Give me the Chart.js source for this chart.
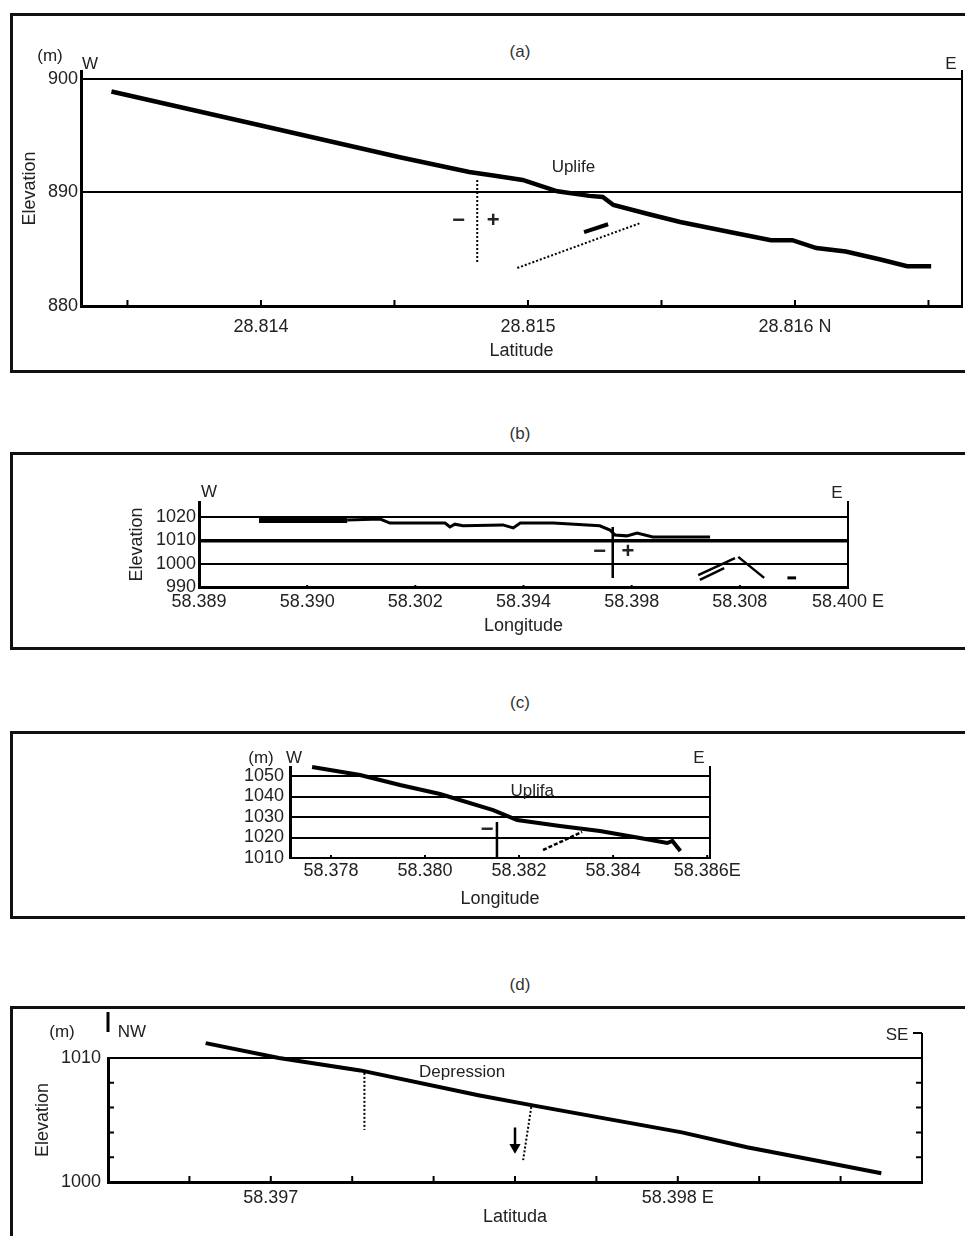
<!DOCTYPE html>
<html>
<head>
<meta charset="utf-8">
<title>Elevation profiles (a)-(d)</title>
<script src="https://cdn.jsdelivr.net/npm/chart.js"></script>
<style>
  body { margin: 0; width: 965px; height: 1236px; overflow: hidden; position: relative; background: #fff;
         font-family: "Liberation Sans", Arial, sans-serif; }
  .box { position: absolute; left: 10px; width: 990px; border: 3px solid #111; box-sizing: border-box; }
  .cap { position: absolute; width: 60px; margin-left: -30px; text-align: center; font-size: 17px; line-height: 20px; color: #333; }
  canvas { position: absolute; left: 0; }
</style>
</head>
<body>
<div class="box" style="top:13px; height:360px"></div>
<div class="box" style="top:452px; height:198px"></div>
<div class="box" style="top:731px; height:188px"></div>
<div class="box" style="top:1006px; height:260px"></div>
<div class="cap" style="left:520px; top:42px">(a)</div>
<div class="cap" style="left:520px; top:424px">(b)</div>
<div class="cap" style="left:520px; top:693px">(c)</div>
<div class="cap" style="left:520px; top:975px">(d)</div>
<canvas id="chartA" width="965" height="330" style="top:40px"></canvas>
<canvas id="chartB" width="965" height="175" style="top:470px"></canvas>
<canvas id="chartC" width="965" height="170" style="top:745px"></canvas>
<canvas id="chartD" width="965" height="226" style="top:1010px"></canvas>

<script>
    // (a) profile along latitude
    const latA = [28.81344, 28.81400, 28.81452, 28.81478, 28.81487, 28.81498, 28.81511, 28.81523, 28.81528, 28.81532,
                  28.81545, 28.81557, 28.81576, 28.81591, 28.81599, 28.81608, 28.81619, 28.81632, 28.81642, 28.81651];
    const elevA = [898.9, 895.9, 893.1, 891.8, 891.5, 891.1, 890.1, 889.7, 889.6, 888.9,
                   888.1, 887.4, 886.5, 885.8, 885.8, 885.1, 884.8, 884.1, 883.5, 883.5];
    const xTicksA = [28.8135, 28.814, 28.8145, 28.815, 28.8155, 28.816, 28.8165];
    const xLabelsA = ['', '28.814', '', '28.815', '', '28.816 N', ''];
    const yTicksA = [880, 890, 900];
    const yLabelsA = ['880', '890', '900'];
    const faultVertA = [[28.81481, 891.1], [28.81481, 883.8]];
    const faultSlopeA = [[28.81496, 883.35], [28.81542, 887.3]];
    const arrowA = [[28.81521, 886.5], [28.8153, 887.2]];

    // (b) profile along longitude
    const lonB = [58.38911, 58.39074, 58.39135, 58.39153, 58.39255, 58.39264, 58.39273, 58.39288, 58.39362, 58.39381,
                  58.39394, 58.39455, 58.39541, 58.39560, 58.39569, 58.39591, 58.39610, 58.39639, 58.39745];
    const elevB = [1018.7, 1018.7, 1019.1, 1017.4, 1017.4, 1015.7, 1016.9, 1016.2, 1016.6, 1015.3,
                   1017.4, 1017.4, 1016.2, 1014.4, 1012.3, 1011.9, 1013.1, 1011.4, 1011.4];
    const xTicksB = [58.388, 58.390, 58.392, 58.394, 58.396, 58.398, 58.400];
    const xLabelsB = ['58.389', '58.390', '58.302', '58.394', '58.398', '58.308', '58.400 E'];
    const yTicksB = [990, 1000, 1010, 1020];
    const yLabelsB = ['990', '1000', '1010', '1020'];
    const faultB = [[58.39565, 1015.7], [58.39565, 993.9]];
    const slipB1 = [[58.39723, 995.1], [58.39791, 1002.4]];
    const slipB2 = [[58.39726, 993.0], [58.39771, 998.1]];
    const dropB = [[58.39797, 1002.9], [58.39845, 993.9]];
    const dashB = [[58.39888, 993.9], [58.39904, 993.9]];

    // (c) profile along longitude
    const lonC = [58.37760, 58.37862, 58.37947, 58.38032, 58.38145, 58.38196, 58.38287, 58.38372, 58.38457, 58.38515, 58.38526, 58.38543];
    const elevC = [1054.4, 1050.5, 1045.6, 1041.2, 1033.4, 1028.5, 1025.6, 1023.2, 1019.8, 1017.3, 1018.3, 1013.4];
    const xTicksC = [58.378, 58.380, 58.382, 58.384, 58.386];
    const xLabelsC = ['58.378', '58.380', '58.382', '58.384', '58.386E'];
    const yTicksC = [1010, 1020, 1030, 1040, 1050];
    const yLabelsC = ['1010', '1020', '1030', '1040', '1050'];
    const faultC = [[58.38153, 1027.6], [58.38153, 1010.2]];
    const slipC = [[58.38251, 1013.9], [58.38334, 1022.7]];

    // (d) profile NW-SE
    const lonD = [58.39684, 58.39702, 58.39722, 58.39751, 58.39764, 58.39801, 58.39817, 58.39833, 58.39850];
    const elevD = [1011.2, 1010.0, 1009.0, 1007.0, 1006.2, 1004.0, 1002.8, 1001.8, 1000.7];
    const xTicksD = [58.3966, 58.3968, 58.3970, 58.3972, 58.3974, 58.3976, 58.3978, 58.3980, 58.3982, 58.3984, 58.3986];
    const xLabelsD = ['', '', '58.397', '', '', '', '', '58.398 E', '', '', ''];
    const yTicksD = [1000, 1002, 1004, 1006, 1008, 1010];
    const yLabelsD = ['1000', '', '', '', '', '1010'];
    const faultD1 = [[58.39723, 1008.8], [58.39723, 1004.2]];
    const faultD2 = [[58.39764, 1006.05], [58.39762, 1001.77]];
    const arrowD = [[58.39760, 1004.4], [58.39760, 1002.8]];

    const FONT = {family: '"Liberation Sans", Arial, sans-serif', size: 18};
    const INK = '#222';

    const pts = (xs, ys) => xs.map((v, i) => ({x: v, y: ys[i]}));
    const pairs = arr => arr.map(p => ({x: p[0], y: p[1]}));
    const line = (data, w, dash) => ({
        data: data, borderColor: '#000', borderWidth: w, borderDash: dash || [],
        pointRadius: 0, fill: false, clip: false
    });

    // tick marks drawn inside the frame, small frame pieces and the text notes
    const marks = {
        id: 'marks',
        afterDatasetsDraw(chart, args, o) {
            const {ctx, chartArea: a, scales: {x, y}} = chart;
            ctx.save();
            ctx.strokeStyle = '#000';
            ctx.lineWidth = 2;
            ctx.beginPath();
            if (o.xTick) x.ticks.forEach(t => {
                if (t.value <= x.min || t.value >= x.max) return;
                const px = x.getPixelForValue(t.value);
                ctx.moveTo(px, a.bottom);
                ctx.lineTo(px, a.bottom - o.xTick);
            });
            if (o.yTick) y.ticks.forEach(t => {
                if (t.value <= y.min || t.value >= y.max) return;
                const py = y.getPixelForValue(t.value);
                ctx.moveTo(a.left, py); ctx.lineTo(a.left + o.yTick, py);
                ctx.moveTo(a.right, py); ctx.lineTo(a.right - o.yTick, py);
            });
            ctx.stroke();
            (o.stubs || []).forEach(s => {
                const bx = s.side === 'right' ? a.right : a.left;
                ctx.lineWidth = s.w || 2;
                ctx.beginPath();
                ctx.moveTo(bx + s.dx1, a.top + s.dy1);
                ctx.lineTo(bx + s.dx2, a.top + s.dy2);
                ctx.stroke();
            });
            ctx.fillStyle = INK;
            ctx.textAlign = 'center';
            ctx.textBaseline = 'middle';
            const setFont = s => {
                ctx.font = (s.bold ? 'bold ' : '') + (s.size || 17) + 'px "Liberation Sans", Arial, sans-serif';
            };
            (o.texts || []).forEach(s => {
                setFont(s);
                ctx.fillText(s.t, x.getPixelForValue(s.x), y.getPixelForValue(s.y));
            });
            (o.frame || []).forEach(s => {
                setFont(s);
                const bx = s.side === 'right' ? a.right : a.left;
                ctx.fillText(s.t, bx + s.dx, a.top + s.dy);
            });
            ctx.restore();
        }
    };

    function makeChart(id, c) {
        return new Chart(document.getElementById(id), {
            type: 'line',
            data: {datasets: c.datasets},
            options: {
                responsive: false,
                animation: false,
                events: [],
                layout: {padding: c.pad},
                plugins: {legend: {display: false}, tooltip: {enabled: false}, marks: c.marks},
                scales: {
                    x: {
                        type: 'linear', min: c.xMin, max: c.xMax,
                        afterBuildTicks: s => { s.ticks = c.xTicks.map(v => ({value: v})); },
                        afterFit: s => { s.height = c.xH; },
                        ticks: {autoSkip: false, maxRotation: 0, padding: c.xPad, color: INK, font: FONT,
                                callback: (v, i) => c.xLabels[i]},
                        grid: {display: false, drawTicks: false},
                        border: {color: '#000', width: c.xBorder},
                        title: {display: true, text: c.xTitle, color: INK, font: FONT}
                    },
                    y: {
                        type: 'linear', min: c.yMin, max: c.yMax,
                        afterBuildTicks: s => { s.ticks = c.yTicks.map(v => ({value: v})); },
                        afterFit: s => { s.width = c.yW; },
                        ticks: {autoSkip: false, padding: c.yPad, color: INK, font: FONT,
                                callback: (v, i) => c.yLabels[i]},
                        grid: {drawTicks: false, color: c.gridColor || '#000', lineWidth: c.gridWidth || 2},
                        border: {color: '#000', width: 3},
                        title: {display: !!c.yTitle, text: c.yTitle || '', color: INK, font: FONT}
                    },
                    yR: {
                        type: 'linear', position: 'right', min: c.yMin, max: c.yMax,
                        afterFit: s => { s.width = 0; },
                        ticks: {display: false},
                        grid: {display: false, drawTicks: false},
                        border: {color: '#000', width: 2}
                    }
                }
            },
            plugins: [marks]
        });
    }

    // (a)
    makeChart('chartA', {
        pad: {left: 15, top: 31, right: 3, bottom: 4}, yW: 66, xH: 60, xPad: 10, yPad: 3, xBorder: 3,
        xMin: 28.813326, xMax: 28.8166255, yMin: 880, yMax: 900.7,
        xTicks: xTicksA, xLabels: xLabelsA, yTicks: yTicksA, yLabels: yLabelsA,
        xTitle: 'Latitude', yTitle: 'Elevation',
        datasets: [
            line(pts(latA, elevA), 4.5),
            line(pairs(faultVertA), 2, [2, 2]),
            line(pairs(faultSlopeA), 2, [2, 2]),
            line(pairs(arrowA), 4)
        ],
        marks: {
            xTick: 6,
            texts: [
                {t: 'Uplife', x: 28.81517, y: 892.2},
                {t: '\u2212', x: 28.81474, y: 887.5, bold: true, size: 22},
                {t: '+', x: 28.81487, y: 887.5, bold: true, size: 22}
            ],
            frame: [
                {t: '(m)', side: 'left', dx: -31, dy: -15},
                {t: 'W', side: 'left', dx: 9, dy: -7},
                {t: 'E', side: 'right', dx: -11, dy: -7}
            ]
        }
    });

    // (b)
    makeChart('chartB', {
        pad: {left: 122, top: 32, right: 117, bottom: 4}, yW: 77, xH: 54, xPad: 4, yPad: 3, xBorder: 3,
        xMin: 58.388, xMax: 58.400, yMin: 990, yMax: 1026.4,
        xTicks: xTicksB, xLabels: xLabelsB, yTicks: yTicksB, yLabels: yLabelsB,
        xTitle: 'Longitude', yTitle: 'Elevation',
        gridWidth: ctx => (ctx.tick && ctx.tick.value === 1010) ? 3.5 : 2,
        datasets: [
            Object.assign(line(pts(lonB, elevB), 3), {
                segment: {borderWidth: s => s.p0DataIndex === 0 ? 6 : 3}
            }),
            line(pairs(faultB), 2.5),
            line(pairs(slipB1), 2.5),
            line(pairs(slipB2), 2.5),
            line(pairs(dropB), 2.5),
            line(pairs(dashB), 3)
        ],
        marks: {
            xTick: 2,
            texts: [
                {t: '\u2212', x: 58.39541, y: 1005.0, bold: true, size: 22},
                {t: '+', x: 58.39593, y: 1005.0, bold: true, size: 22}
            ],
            frame: [
                {t: 'W', side: 'left', dx: 10, dy: -10},
                {t: 'E', side: 'right', dx: -11, dy: -9}
            ]
        }
    });

    // (c)
    makeChart('chartC', {
        pad: {left: 0, top: 22, right: 255, bottom: 1}, yW: 290, xH: 56, xPad: 2, yPad: 6, xBorder: 2,
        xMin: 58.37713, xMax: 58.38606, yMin: 1010, yMax: 1054.4,
        xTicks: xTicksC, xLabels: xLabelsC, yTicks: yTicksC, yLabels: yLabelsC,
        xTitle: 'Longitude',
        datasets: [
            line(pts(lonC, elevC), 4),
            line(pairs(faultC), 2.5),
            line(pairs(slipC), 2.5, [4, 2])
        ],
        marks: {
            xTick: 3,
            texts: [
                {t: 'Uplifa', x: 58.38228, y: 1042.7},
                {t: '\u2212', x: 58.38132, y: 1023.7, bold: true, size: 22}
            ],
            frame: [
                {t: '(m)', side: 'left', dx: -29, dy: -9},
                {t: 'W', side: 'left', dx: 4, dy: -9},
                {t: 'E', side: 'right', dx: -11, dy: -9}
            ]
        }
    });

    // (d)
    makeChart('chartD', {
        pad: {left: 28, top: 48, right: 43, bottom: 4}, yW: 80, xH: 50, xPad: 5, yPad: 7, xBorder: 3,
        xMin: 58.3966, xMax: 58.3986, yMin: 1000, yMax: 1010,
        xTicks: xTicksD, xLabels: xLabelsD, yTicks: yTicksD, yLabels: yLabelsD,
        xTitle: 'Latituda', yTitle: 'Elevation',
        gridColor: ctx => (ctx.tick && ctx.tick.value === 1010) ? '#000' : 'rgba(0,0,0,0)',
        datasets: [
            line(pts(lonD, elevD), 4),
            line(pairs(faultD1), 2, [2, 2]),
            line(pairs(faultD2), 2, [2, 2]),
            Object.assign(line(pairs(arrowD), 2.5), {
                pointRadius: [0, 4], pointStyle: 'triangle', rotation: 180,
                pointBackgroundColor: '#000', pointBorderColor: '#000'
            })
        ],
        marks: {
            xTick: 6,
            yTick: 6,
            stubs: [
                {side: 'left', dx1: 0, dy1: -46, dx2: 0, dy2: -26, w: 3},
                {side: 'right', dx1: 0, dy1: -25, dx2: 0, dy2: 0, w: 2},
                {side: 'right', dx1: -9, dy1: -25, dx2: 0, dy2: -25, w: 2}
            ],
            texts: [
                {t: 'Depression', x: 58.39747, y: 1008.87}
            ],
            frame: [
                {t: '(m)', side: 'left', dx: -46, dy: -26},
                {t: 'NW', side: 'left', dx: 24, dy: -26},
                {t: 'SE', side: 'right', dx: -25, dy: -23}
            ]
        }
    });
</script>
</body>
</html>
